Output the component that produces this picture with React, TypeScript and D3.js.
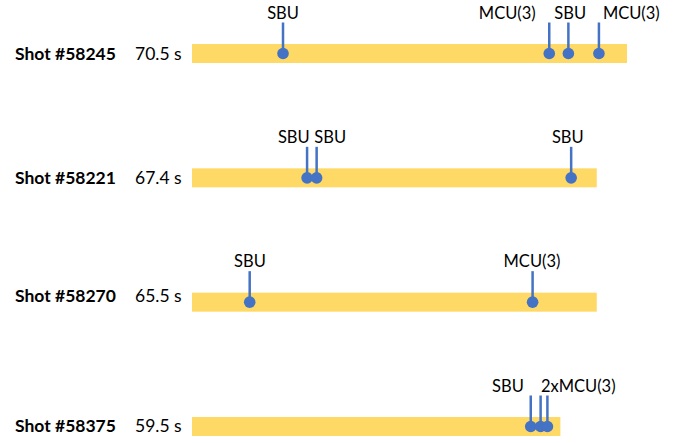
import React, { useEffect, useRef } from "react";
import * as d3 from "d3";

const shots = ["Shot #58245", "Shot #58221", "Shot #58270", "Shot #58375"];
const durations = ["70.5 s", "67.4 s", "65.5 s", "59.5 s"];
// bar lengths in seconds, as drawn
const barSeconds = [70.5, 65.6, 65.6, 59.7];

// event times (s) per shot
const eventTimes = [
  [14.75, 57.9, 61.0, 65.95],
  [18.65, 20.2, 61.45],
  [9.35, 55.2],
  [54.9, 56.5, 57.6],
];

// event labels per shot, with the time they are centred on
const labelTexts = [
  ["SBU", "MCU(3)", "SBU", "MCU(3)"],
  ["SBU", "SBU", "SBU"],
  ["SBU", "MCU(3)"],
  ["SBU", "2xMCU(3)"],
];
const labelTimes = [
  [14.75, 51.1, 61.3, 71.2],
  [16.5, 22.4, 60.9],
  [9.4, 55.1],
  [51.2, 62.6],
];

const WIDTH = 688;
const HEIGHT = 443;
const FONT = "Lato, 'Open Sans', sans-serif";
const BAR_COLOR = "#FFD966";
const EVENT_COLOR = "#4472C4";

export default function App() {
  const ref = useRef<SVGSVGElement | null>(null);

  useEffect(() => {
    const svg = d3.select(ref.current);
    svg.selectAll("*").remove();

    const x = d3.scaleLinear().domain([0, 70.5]).range([192, 627]);
    const y = d3.scalePoint<string>().domain(shots).range([53.5, 426.5]);

    const barH = 19;
    const stemLen = 31;
    // small vertical nudges of the row titles, as in the original
    const titleShift = [6, 6.5, 0, 5];

    shots.forEach((shot, i) => {
      const cy = y(shot) as number;
      const g = svg.append("g");

      g.append("text")
        .attr("x", 15)
        .attr("y", cy + titleShift[i])
        .style("font-family", FONT)
        .style("font-size", "17.5px")
        .style("font-weight", "bold")
        .text(shot);

      g.append("text")
        .attr("x", 135)
        .attr("y", cy + titleShift[i])
        .style("font-family", FONT)
        .style("font-size", "17.5px")
        .text(durations[i]);

      g.append("rect")
        .attr("x", x(0))
        .attr("y", cy - barH / 2)
        .attr("width", x(barSeconds[i]) - x(0))
        .attr("height", barH)
        .attr("fill", BAR_COLOR);

      g.selectAll("line.stem")
        .data(eventTimes[i])
        .enter()
        .append("line")
        .attr("class", "stem")
        .attr("x1", (d) => x(d))
        .attr("x2", (d) => x(d))
        .attr("y1", cy)
        .attr("y2", cy - stemLen)
        .attr("stroke", EVENT_COLOR)
        .attr("stroke-width", 2.5);

      g.selectAll("circle")
        .data(eventTimes[i])
        .enter()
        .append("circle")
        .attr("cx", (d) => x(d))
        .attr("cy", cy)
        .attr("r", 5.8)
        .attr("fill", EVENT_COLOR);

      g.selectAll("text.evt")
        .data(labelTexts[i])
        .enter()
        .append("text")
        .attr("class", "evt")
        .attr("x", (_d, j) => x(labelTimes[i][j]))
        .attr("y", cy - stemLen - 4)
        .attr("text-anchor", "middle")
        .style("font-family", FONT)
        .style("font-size", "16.5px")
        .text((d) => d);
    });
  }, []);

  return (
    <svg
      ref={ref}
      width={WIDTH}
      height={HEIGHT}
      style={{ position: "absolute", left: 0, top: 0, background: "#fff" }}
    />
  );
}
